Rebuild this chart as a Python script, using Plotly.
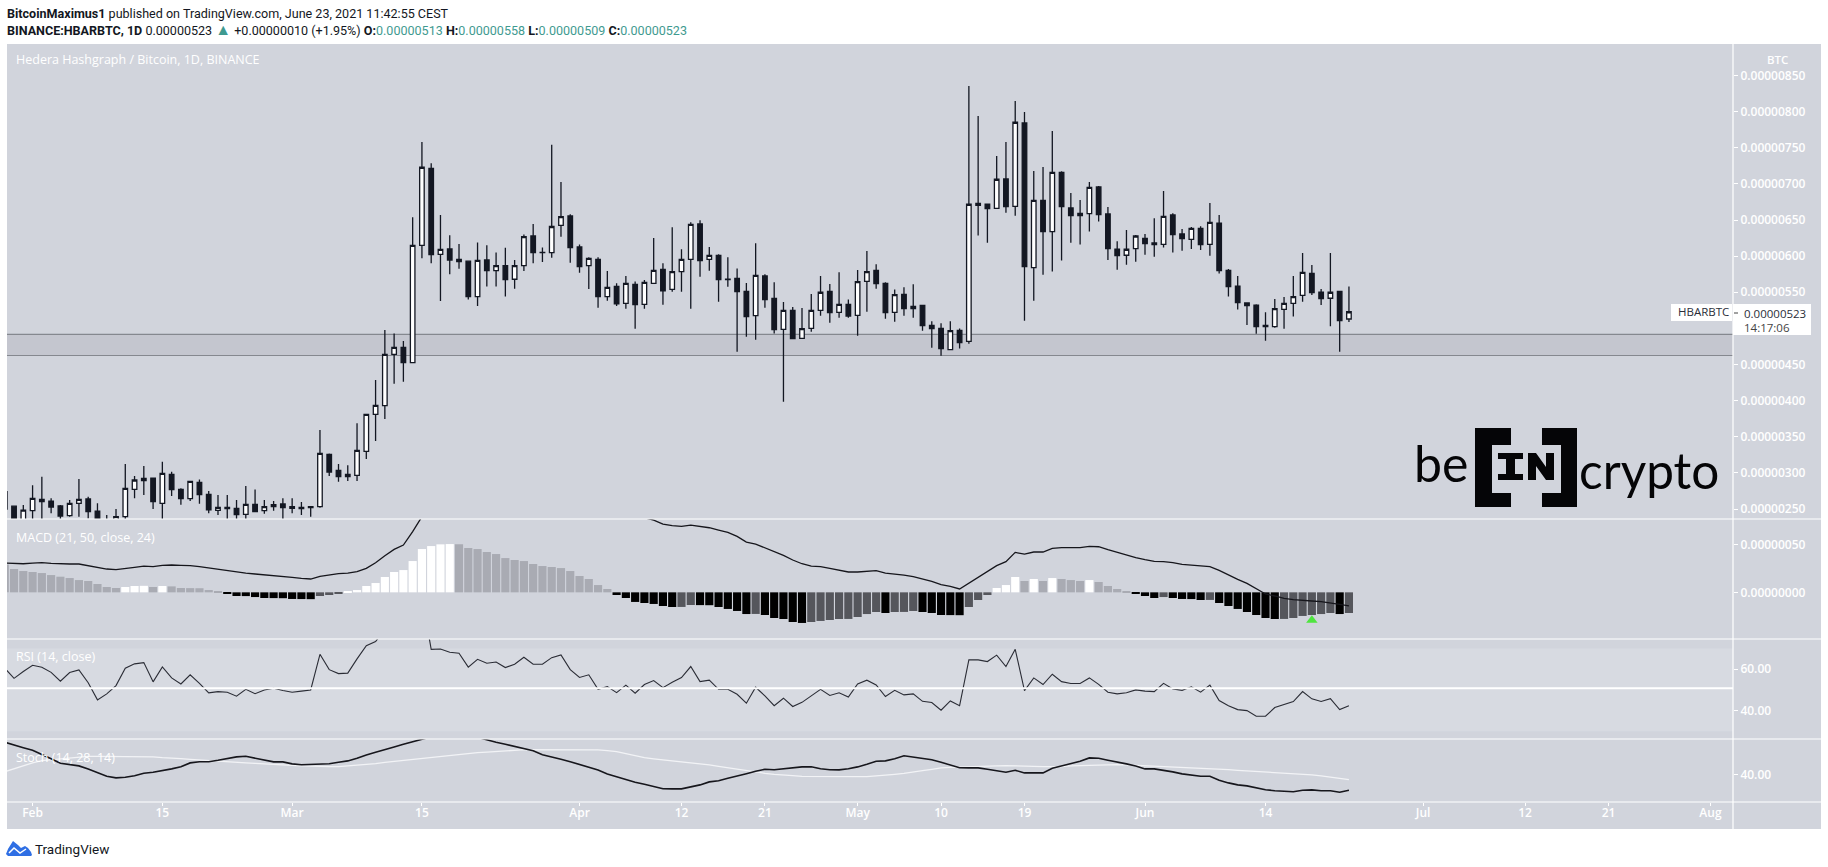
import pandas as pd
import plotly.graph_objects as go

# all prices and MACD values are in satoshi (1e-8 BTC)
dates = pd.date_range("2021-01-29", periods=146)

opens = [274, 254, 232, 247.7, 263.4, 261, 254.2, 240.8, 257.9, 263.9, 247.2, 232, 232, 239.4, 277.2, 289.2, 292.9, 257.9, 298, 277.2,
         264.3, 286.9, 270.3, 248.2, 252.3, 251, 242.6, 256.5, 247.7, 253.2, 257, 253.2, 252.3, 253.2, 253.2, 325.7, 303.5, 294.8, 296.6, 329.8,
         381, 393, 464, 473.8, 452.6, 615, 721.5, 602.5, 610, 595.6, 593, 544, 594.7, 580, 587, 568, 587, 628, 605.3, 605,
         642.6, 655.6, 612.7, 586.8, 595.6, 543.9, 558.2, 534.7, 561, 533.3, 562.4, 581.7, 554, 578.5, 595.6, 644.5, 595.6, 601, 568.1, 569.3,
         551.3, 517.6, 572.5, 541.6, 498.7, 525, 486.2, 500, 525, 551.3, 522.2, 533.3, 518, 565, 580.4, 562.4, 522.2, 547.2, 527.3, 531.9,
         504.2, 500, 470.5, 497.3, 482, 670.4, 671.8, 666.2, 706.8, 669, 784.3, 584, 677.3, 633.9, 716, 666.7, 656, 658.8, 695.8, 658.4,
         609.5, 601.2, 610.4, 624.7, 618.2, 616.4, 657, 630.7, 623.3, 638.5, 616.4, 645.5, 580.4, 558.3, 535.2, 532, 504.3, 502.4, 526.4, 534.7,
         545.8, 576.2, 550, 541.7, 551.3, 513]
highs = [274, 254.5, 255.5, 283, 294.8, 264.8, 255.5, 262.5, 291.5, 267, 257.9, 241.7, 250, 312.3, 295.7, 309.5, 292.9, 315.5, 301.7, 278.6,
         288.3, 291, 275, 269.4, 269.4, 262.5, 281.9, 277.2, 262.5, 261, 264.8, 264.8, 259.7, 253.2, 359.4, 327, 312.3, 310.5, 368.6, 381,
         428.6, 497.8, 493, 482.6, 653.7, 758, 728.5, 657, 629, 616.8, 593, 619, 615, 605, 611.7, 594.7, 630, 644.5, 612, 754,
         702.6, 658, 616, 598.4, 598.4, 579.4, 562.4, 572.5, 565, 567, 625, 590, 640, 609.4, 646.8, 649.6, 612.7, 602.5, 598.4, 583,
         562.8, 618, 574.8, 563.8, 536.5, 529.6, 528.2, 547.6, 572.5, 561.4, 577.6, 540, 580.8, 607, 588.7, 563.8, 554, 556.8, 561, 531.9,
         509.8, 507, 509.8, 500, 835.5, 794, 673, 738.7, 758, 814.8, 799.6, 717.9, 723.4, 773.3, 717.4, 687.4, 677.8, 702.7, 697, 668,
         620.5, 636.2, 629.3, 630.7, 652.4, 690.2, 659.3, 637.6, 640.4, 641.3, 673.6, 657, 582.2, 572.6, 536, 533.3, 522.3, 540.7, 543.5, 572.6,
         604.4, 587.8, 554.6, 604.4, 551.3, 558]
lows = [250, 225, 225, 230, 230, 244, 235, 239.4, 239.4, 237, 225, 222, 228, 234, 265, 269.4, 250, 232, 268, 256,
        261, 257.4, 244, 241.7, 234, 234, 234, 245.4, 243.6, 247.7, 234, 244, 241.7, 239.4, 251.9, 295.7, 287.9, 288.8, 288.8, 319.2,
        344, 374.6, 423.5, 426.3, 452.6, 597, 590, 538, 575, 582.7, 540, 531, 558, 558, 544, 555, 579.6, 590, 592, 597.9,
        627, 591, 577, 554.5, 528.7, 538.4, 531, 527.3, 499.6, 527.3, 562.4, 532.8, 550.8, 550.8, 527.3, 571.6, 579.9, 537, 557.8, 467.8,
        488.5, 484.4, 528.7, 493, 398.6, 484.9, 486.2, 495.5, 517.6, 507.9, 514.8, 514.8, 489.9, 523, 555, 513.4, 509.3, 517.6, 514.8, 496.9,
        473.3, 462.2, 469.6, 472, 478.9, 628.4, 618.7, 666.2, 660.2, 656, 510.7, 538.4, 574.4, 578.6, 593.8, 618.7, 616, 634, 647.8, 594.7,
        581.3, 588.2, 592.4, 602, 599.3, 611.8, 604.9, 607.6, 610, 608.5, 600.7, 575.8, 544, 526, 504.7, 492.7, 483, 501, 499.6, 516.3,
        537, 546.3, 532.4, 503, 467.8, 509]
closes = [250, 232, 248.6, 264.8, 260.2, 252.8, 240.3, 257.9, 263.4, 246.3, 232, 228, 239.4, 278.6, 290.2, 292.5, 260.2, 299.4, 276.8, 264.3,
          288.3, 269.9, 249, 252.3, 250.5, 242.2, 256.5, 246.3, 253.2, 256, 251.9, 251, 250.5, 251.9, 327, 301.2, 294.8, 298, 331.2, 381,
          393.5, 464, 473.8, 452.6, 615, 723, 602, 609.4, 594.6, 592.4, 544, 594, 580, 587, 567.4, 587, 627, 605, 604.9, 641,
          654.6, 611.7, 585.4, 597, 543.9, 556.8, 533.8, 562.4, 532.8, 563.8, 580.4, 552, 578.5, 595.6, 644, 593.7, 601, 567.4, 567.7, 550.8,
          516.2, 573.4, 539.8, 498.2, 525, 485.8, 499.6, 525, 550, 521.8, 533.3, 517, 564.7, 578.5, 561.9, 521.8, 546.7, 527.3, 530.5, 503.8,
          499.6, 472, 496.8, 480.2, 671.8, 673, 665.8, 706.4, 668.5, 785.3, 585.5, 677.3, 633.9, 716, 668.5, 656, 659.3, 695.3, 657.5, 610.4,
          600.7, 609.5, 627.9, 617.3, 616, 655.1, 629.8, 624.2, 638.5, 616, 646.8, 579.9, 557.8, 535.6, 531.5, 502.4, 502.4, 527.3, 534.7, 544,
          577.6, 549.5, 541.2, 550, 510.7, 523]

macd_hist = [29, 24.3, 22.2, 21.2, 20.1, 18, 16.3, 14.9, 12.8, 11.8, 8.7, 5.6, 4.5, 5.6, 6.6, 6.8, 5.6, 6.6, 6.2, 4.5,
             4.4, 4.3, 2.4, 0.4, -1.7, -3.8, -3.9, -4.9, -5.9, -6, -6.1, -6.9, -7, -7.1, -3.8, -2.8, -1.7, 0.4, 2.4, 6.6,
             9.7, 16, 21.2, 23.2, 32.6, 45.1, 48.2, 50, 50.3, 50.1, 46.2, 45.1, 42, 39.9, 35.7, 33.7, 32.6, 29.5, 27.4, 26.4,
             25.3, 22.2, 17, 13.9, 7.6, 3.5, -2.8, -5.9, -10, -11.1, -12.1, -14.2, -15.3, -15.2, -13.2, -13.3, -13.4, -15.3, -17.3, -19.4,
             -22.6, -22.5, -23.6, -26.7, -27.8, -30.9, -31.9, -30.9, -29.8, -28.8, -27.8, -27.7, -25.7, -22.6, -20.5, -21.5, -20.5, -20.4, -19.4, -20.5,
             -21.5, -23.6, -23.7, -23.8, -15.3, -8, -2.8, 4.5, 7.6, 16, 11.8, 13.9, 11.8, 14.9, 13.9, 12.8, 11.8, 12.8, 10.8, 6.6,
             3.5, 0.4, -1.7, -3.8, -5.9, -4.9, -5.9, -6.9, -7, -8, -7.9, -11.1, -14.2, -17.3, -20.5, -23.6, -26.7, -27.8, -27.7, -26.7,
             -24.6, -23.6, -22.6, -21.5, -22.6, -21.5]
macd_line = [30.5, 30.2, 29.8, 30.5, 30.9, 30.2, 29.5, 29.5, 29.5, 27.8, 26, 24.3, 23.6, 24.6, 26, 27.4, 26.7, 28.1, 28.5, 28.1,
             27.8, 26.7, 25.3, 23.9, 22.6, 20.8, 20.1, 19.1, 18.4, 17.4, 16.7, 15.6, 14.6, 13.9, 16.7, 18.4, 19.4, 20.1, 21.5, 25,
             30.9, 38.2, 44.8, 49.3, 63.2, 78.8, 89.2, 101.3, 111.7, 118.7, 122.1, 123.9, 123.9, 122.1, 120.4, 116.9, 113.5, 110, 106.5, 102,
             98.5, 94.4, 90.9, 88.1, 85.7, 83.6, 82.2, 81.2, 79.5, 77.7, 75.3, 71.1, 69.4, 68.7, 70.1, 69, 67.3, 64.9, 62.5, 58.3,
             52.4, 50.3, 46.5, 42, 38.5, 33.7, 29.8, 27.4, 26.7, 25, 23.2, 21.2, 21.2, 21.9, 22.6, 20.1, 19.4, 18, 16.3, 13.9,
             11.5, 8, 6.2, 3.5, 9.4, 15.3, 21.5, 27.8, 31.9, 41.6, 39.9, 42, 42, 45.8, 46.5, 46.5, 46.5, 47.9, 47.5, 44.4,
             41.6, 38.2, 36.1, 34, 32.3, 31.9, 30.9, 29.1, 28.1, 27.1, 26.7, 22.9, 18, 13.5, 9.4, 4.2, -1.7, -3.8, -6.2, -7.6,
             -8, -9, -9.7, -10.8, -12.5, -14.2]
rsi_values = [60.5, 55.6, 58.9, 61.9, 61, 58.5, 54.2, 58.4, 59.7, 53.5, 45.2, 48.1, 52.1, 60.5, 62.6, 63.2, 53.9, 61.1, 55.8, 52.9,
              57.3, 53.2, 48.6, 49.2, 48.9, 47, 50.3, 48.2, 50, 50.8, 49.7, 48.9, 49.4, 50, 67.2, 59.8, 57.9, 58.1, 65, 71.4,
              73.4, 79, 77.4, 75, 87.8, 95.1, 69.6, 69.8, 68.2, 67.7, 61, 64.8, 62.9, 63.5, 60.8, 62.4, 65.8, 62.4, 62.4, 65.6,
              66.9, 59.8, 56, 57.3, 50.3, 51.6, 48.7, 52.3, 48.4, 52.6, 54.5, 51.1, 53.7, 56, 61.3, 54, 54.7, 50.3, 50.3, 47.9,
              43.6, 51.3, 47.1, 42.4, 46, 42, 44, 47.1, 50.3, 47.3, 48.6, 46.6, 52.9, 54.7, 52.4, 46.8, 49.8, 47.6, 48.1, 44.5,
              43.9, 40.2, 44.7, 42.4, 64.5, 64.5, 63.7, 66.8, 61.3, 69.6, 49.7, 55.8, 52.6, 57.6, 54, 53.1, 53.1, 55.8, 52.7, 48.9,
              48.1, 48.6, 50, 49.4, 49.2, 53.2, 50.5, 49.8, 51.5, 48.9, 52.3, 44.9, 42.4, 40.5, 40, 37.3, 37.3, 41.5, 42.8, 44.4,
              49.2, 45.7, 44.4, 45.8, 40.5, 42.4]
stoch_k = [56.2, 54.7, 53.5, 52.2, 50.2, 48, 45.7, 45, 44.4, 42.9, 40.9, 39.2, 38.4, 38.7, 39.5, 40.7, 41.2, 42, 42.9, 44,
           45.9, 46.5, 46.5, 47.2, 48.2, 48.9, 49.2, 48.2, 47.2, 46.4, 46.4, 45.4, 45, 45.2, 45.4, 45.5, 46.2, 46.9, 48.2, 49.9,
           51.2, 52.7, 53.9, 55.2, 56.5, 58.2, 59.4, 60.2, 60.7, 60.5, 59.9, 58.7, 57.4, 56.2, 55.2, 54.2, 53.2, 52, 50, 48.7,
           47.7, 46.5, 45.2, 43.9, 42.4, 40.4, 38.9, 37.5, 36.2, 35.2, 34.2, 33, 32.9, 32.9, 33.9, 34.9, 36.4, 37, 38.2, 39.2,
           40.5, 41.7, 42.7, 42.5, 43, 43.7, 43.9, 44, 43, 42.5, 42.4, 43, 43.9, 45.2, 46.7, 46.9, 48, 49.5, 48.9, 48.2,
           47.5, 46.2, 44.9, 43.5, 43.4, 43.4, 42.7, 41.9, 41.2, 42.2, 40.9, 40.9, 40.9, 43.2, 44.4, 45.5, 46.7, 48.4, 48.2, 47.2,
           46.4, 45.4, 44.4, 42.9, 42.9, 42.2, 41.4, 40.4, 39.7, 39.2, 39.2, 37.2, 35.9, 34.9, 34.4, 33.4, 32.5, 32, 31.9, 31.5,
           32.2, 32.4, 32, 32, 31.2, 32.2]
stoch_d = [41.5, 43, 44.7, 45.9, 47, 47.5, 47.9, 48.4, 48.7, 49.2, 49.2, 49.2, 49.2, 49.2, 49.2, 49, 48.9, 48.5, 48.4, 48,
           47.7, 47.4, 46.9, 46.5, 46.4, 46, 45.9, 45.7, 45.5, 45.4, 45, 44.7, 44.4, 44.2, 44.2, 44, 44, 44.4, 44.5, 45,
           45.5, 46.2, 46.7, 47.2, 47.7, 48.2, 48.7, 49.2, 49.7, 50, 50.5, 51, 51.3, 51.7, 52, 52.2, 52.5, 52.5, 52.5, 52.7,
           52.7, 52.7, 52.7, 52.5, 52.4, 52, 51.5, 50.5, 49.5, 48.5, 47.9, 47.4, 46.9, 46.4, 45.9, 45.7, 44.9, 44.2, 43.5, 42.7,
           41.9, 41.2, 40.7, 40.2, 39.7, 39.5, 39.2, 39.2, 39, 39, 38.9, 38.9, 38.9, 39, 39.4, 39.7, 40.2, 40.7, 41.5, 42,
           42.7, 43.4, 43.7, 43.9, 44, 44.2, 44.4, 44.4, 44.5, 44.5, 44.4, 44.2, 44, 43.9, 44, 44.4, 44.5, 44.7, 45, 45,
           45, 44.9, 44.7, 44.5, 44.4, 44.2, 43.9, 43.7, 43.4, 43.2, 43, 42.7, 42.5, 42.2, 41.9, 41.7, 41.4, 41.2, 40.9, 40.7,
           40.4, 39.9, 39.4, 38.9, 38.2, 37.5]

zone_low, zone_high = 462.5, 491.8
rsi_low, rsi_mid, rsi_high = 30, 50.8, 70
signal_date, signal_value = "2021-06-19", -29

price_ticks = [850, 800, 750, 700, 650, 600, 550, 450, 400, 350, 300, 250]
macd_ticks = [50, 0]
rsi_ticks = [60, 40]
stoch_ticks = [40]
date_ticks = ["2021-02-01", "2021-02-15", "2021-03-01", "2021-03-15", "2021-04-01", "2021-04-12", "2021-04-21", "2021-05-01",
              "2021-05-10", "2021-05-19", "2021-06-01", "2021-06-14", "2021-07-01", "2021-07-12", "2021-07-21", "2021-08-01"]
date_labels = ["Feb", "15", "Mar", "15", "Apr", "12", "21", "May", "10", "19", "Jun", "14", "Jul", "12", "21", "Aug"]

W, H = 1828, 867
FONT = "Open Sans"
HEAD_FONT = "Roboto"
DARK = "#131722"
PANEL = "#d1d4dc"
LABEL = "#ffffff"
TEAL = "#3f9a90"


def fx(px):
    return px / W


def fy(py):
    return 1 - py / H


def sat(values):
    return [v * 1e-8 for v in values]


def hist_color(i):
    v = macd_hist[i]
    prev = macd_hist[i - 1] if i else v + 1
    if v >= 0:
        return "#ffffff" if v > prev else "#a9abb3"
    return "#000000" if v < prev else "#55565c"


fig = go.Figure()
fig.add_trace(go.Candlestick(x=dates, open=sat(opens), high=sat(highs), low=sat(lows), close=sat(closes),
                             increasing=dict(fillcolor="#ffffff", line=dict(color=DARK, width=1.3)),
                             decreasing=dict(fillcolor=DARK, line=dict(color=DARK, width=1.3)),
                             whiskerwidth=0, xaxis="x", yaxis="y"))
fig.add_trace(go.Bar(x=dates, y=sat(macd_hist), marker=dict(color=[hist_color(i) for i in range(len(macd_hist))], line_width=0),
                     xaxis="x2", yaxis="y2"))
fig.add_trace(go.Scatter(x=dates, y=sat(macd_line), mode="lines", line=dict(color="#16161c", width=1.3), xaxis="x2", yaxis="y2"))
fig.add_trace(go.Scatter(x=[signal_date], y=[signal_value * 1e-8], mode="markers",
                         marker=dict(symbol="triangle-up", size=10, color="#4fe53f"), xaxis="x2", yaxis="y2"))
fig.add_trace(go.Scatter(x=dates, y=rsi_values, mode="lines", line=dict(color="#2a2c35", width=1.1), xaxis="x3", yaxis="y3"))
fig.add_trace(go.Scatter(x=dates, y=stoch_d, mode="lines", line=dict(color="#f2f3f6", width=1.3), xaxis="x4", yaxis="y4"))
fig.add_trace(go.Scatter(x=dates, y=stoch_k, mode="lines", line=dict(color="#16161c", width=1.6), xaxis="x4", yaxis="y4"))

x_range = ["2021-01-29 05:46", "2021-08-03 10:19"]
x_domain = [fx(7), fx(1733)]
shared_x = dict(range=x_range, domain=x_domain, type="date", showgrid=False, zeroline=False, showticklabels=False,
                ticks="", showline=False, rangeslider=dict(visible=False))
tick_font = dict(family=FONT, size=12, color=LABEL, weight=600)
shared_y = dict(side="right", showgrid=False, zeroline=False, showline=False, ticks="outside", ticklen=4, tickwidth=1,
                tickcolor="#ffffff", tickfont=tick_font)

fig.update_layout(
    width=W, height=H, margin=dict(l=0, r=0, t=0, b=0), paper_bgcolor="#ffffff", plot_bgcolor="rgba(0,0,0,0)",
    showlegend=False, boxgap=0.3, bargap=0.12, barmode="overlay",
    xaxis={**shared_x, "anchor": "y"},
    xaxis2={**shared_x, "anchor": "y2"},
    xaxis3={**shared_x, "anchor": "y3"},
    xaxis4={**shared_x, "anchor": "y4", "showticklabels": True, "ticks": "outside", "ticklen": 3, "tickcolor": "#ffffff",
            "ticklabelstandoff": -3, "tickvals": date_ticks, "ticktext": date_labels, "tickfont": tick_font},
    yaxis={**shared_y, "anchor": "x", "domain": [fy(519), fy(44)], "range": [236.2e-8, 893.6e-8],
           "tickvals": sat(price_ticks), "ticktext": [f"{v * 1e-8:.8f}" for v in price_ticks]},
    yaxis2={**shared_y, "anchor": "x2", "domain": [fy(639), fy(519)], "range": [-48.6e-8, 76.4e-8],
            "tickvals": sat(macd_ticks), "ticktext": [f"{v * 1e-8:.8f}" for v in macd_ticks]},
    yaxis3={**shared_y, "anchor": "x3", "domain": [fy(739), fy(639)], "range": [26.3, 74.6],
            "tickvals": rsi_ticks, "ticktext": [f"{v:.2f}" for v in rsi_ticks]},
    yaxis4={**shared_y, "anchor": "x4", "domain": [fy(802), fy(739)], "range": [26.35, 57.85],
            "tickvals": stoch_ticks, "ticktext": [f"{v:.2f}" for v in stoch_ticks]},
)

# panel background, then bands, then separators
shapes = [dict(type="rect", xref="paper", yref="paper", x0=fx(7), x1=fx(1821), y0=fy(829), y1=fy(44),
               fillcolor=PANEL, line_width=0, layer="below")]
shapes.append(dict(type="rect", xref="x domain", yref="y", x0=0, x1=1, y0=zone_low * 1e-8, y1=zone_high * 1e-8,
                   fillcolor="#c4c6cf", line_width=0, layer="below"))
for level in (zone_low, zone_high):
    shapes.append(dict(type="line", xref="x domain", yref="y", x0=0, x1=1, y0=level * 1e-8, y1=level * 1e-8,
                       line=dict(color="#85888f", width=1.2), layer="below"))
shapes.append(dict(type="rect", xref="x3 domain", yref="y3", x0=0, x1=1, y0=rsi_low, y1=rsi_high,
                   fillcolor="#d7dae1", line_width=0, layer="below"))
shapes.append(dict(type="line", xref="x3 domain", yref="y3", x0=0, x1=1, y0=rsi_mid, y1=rsi_mid,
                   line=dict(color="#ffffff", width=2), layer="above"))
for sep in (519, 639, 739, 802):
    shapes.append(dict(type="line", xref="paper", yref="paper", x0=fx(7), x1=fx(1821), y0=fy(sep), y1=fy(sep),
                       line=dict(color="#ffffff", width=1.2), layer="above"))
shapes.append(dict(type="line", xref="paper", yref="paper", x0=fx(1733), x1=fx(1733), y0=fy(829), y1=fy(44),
                   line=dict(color="#ffffff", width=1.2), layer="above"))
# last price boxes
for x0, x1, y0, y1 in ((1671, 1732, 304, 321), (1733, 1811, 304, 335)):
    shapes.append(dict(type="rect", xref="paper", yref="paper", x0=fx(x0), x1=fx(x1), y0=fy(y1), y1=fy(y0),
                       fillcolor="#ffffff", line_width=0, layer="above"))
shapes.append(dict(type="line", xref="paper", yref="paper", x0=fx(1734), x1=fx(1738), y0=fy(313), y1=fy(313),
                   line=dict(color="#444444", width=1), layer="above"))


def path_shape(points, color):
    path = ""
    for i, (x, y) in enumerate(points):
        path += ("M" if i == 0 else "L") + f"{fx(x):.5f},{fy(y):.5f} "
    return dict(type="path", xref="paper", yref="paper", path=path + "Z", fillcolor=color, line_width=0, layer="above")


# beincrypto logo: brackets and IN
BLACK = "#050507"
shapes.append(path_shape([(1475, 428), (1511, 428), (1511, 445), (1492, 445), (1492, 493), (1511, 493), (1511, 507), (1475, 507)], BLACK))
shapes.append(path_shape([(1542, 428), (1577, 428), (1577, 507), (1542, 507), (1542, 493), (1561, 493), (1561, 445), (1542, 445)], BLACK))
shapes.append(path_shape([(1498, 453), (1523, 453), (1523, 459), (1515, 459), (1515, 474), (1523, 474), (1523, 480), (1498, 480),
                          (1498, 474), (1506, 474), (1506, 459), (1498, 459)], BLACK))
shapes.append(path_shape([(1528, 453), (1536, 453), (1546, 467), (1546, 453), (1554, 453), (1554, 480), (1546, 480), (1536, 466),
                          (1536, 480), (1528, 480)], BLACK))
# tradingview logo: cloud with a white zigzag through it
BLUE = "#2f6fe4"
shapes.append(path_shape([(6, 854), (8, 849), (13, 841), (18, 845), (21, 848), (25, 846), (28, 848), (31, 852), (32, 855), (31, 856), (8, 856)], BLUE))
shapes.append(dict(type="path", xref="paper", yref="paper", layer="above", line=dict(color="#ffffff", width=1.5),
                   path=f"M{fx(9)},{fy(853)} L{fx(14)},{fy(848)} L{fx(20)},{fy(853)} L{fx(26)},{fy(849)}"))


def label(text, x, y, size, color, anchor="left", family=FONT, weight=None):
    font = dict(family=family, size=size, color=color)
    if weight:
        font["weight"] = weight
    return dict(text=text, xref="paper", yref="paper", x=fx(x), y=fy(y), xanchor=anchor, yanchor="middle", showarrow=False,
                borderpad=0, font=font)


def teal(text):
    return f'<span style="color:{TEAL}">{text}</span>'


line_one = "<b>BitcoinMaximus1</b> published on TradingView.com, June 23, 2021 11:42:55 CEST"
line_two = ("<b>BINANCE:HBARBTC, 1D</b> 0.00000523 " + f'<span style="color:{TEAL};font-size:16px">▲</span>'
            + " +0.00000010 (+1.95%) <b>O:</b>" + teal("0.00000513")
            + " <b>H:</b>" + teal("0.00000558") + " <b>L:</b>" + teal("0.00000509") + " <b>C:</b>" + teal("0.00000523"))

annotations = [
    label(line_one, 6, 13, 12.55, DARK, family=HEAD_FONT),
    label(line_two, 6, 30, 12.55, DARK, family=HEAD_FONT),
    label("Hedera Hashgraph / Bitcoin, 1D, BINANCE", 15, 60, 12.5, LABEL),
    label("MACD (21, 50, close, 24)", 15, 537, 12.5, LABEL),
    label("RSI (14, close)", 15, 656, 12.5, LABEL),
    label("Stoch (14, 28, 14)", 15, 757, 12.5, LABEL),
    label("BTC", 1777, 60, 11.5, LABEL, "center", weight=600),
    label("HBARBTC", 1677, 312, 11.5, "#2a2e39"),
    label("0.00000523", 1743, 313, 11.5, "#2a2e39"),
    label("14:17:06", 1743, 327, 11.5, "#444444"),
    label("be", 1413, 463, 50, BLACK, family="Lato", weight=400),
    label("crypto", 1578, 470, 49.5, BLACK, family="Lato", weight=400),
    label("TradingView", 34, 849, 13.5, DARK, family=HEAD_FONT),
]

fig.update_layout(shapes=shapes, annotations=annotations)

fig.write_html("out.html", config=dict(displayModeBar=False),
               post_script="document.body.style.margin='0';document.body.style.overflow='hidden';")
